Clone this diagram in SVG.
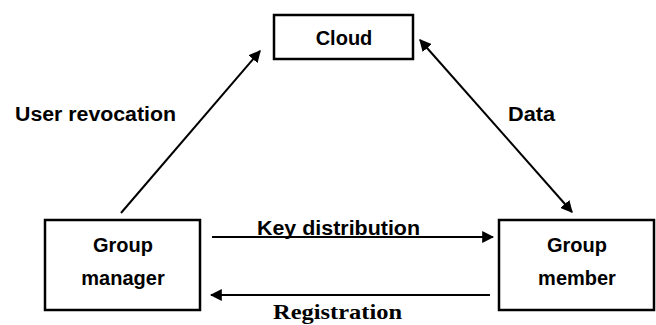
<svg xmlns="http://www.w3.org/2000/svg" width="656" height="325" viewBox="0 0 656 325">
<style>
.box{fill:#fff;stroke:#000;stroke-width:2.5}
.t{font-family:"Liberation Sans",Arial,sans-serif;font-weight:bold;font-size:20px;fill:#000}
.c{text-anchor:middle}
.ln{stroke:#000;stroke-width:2;fill:none}
.r{font-family:"Liberation Serif","Times New Roman",serif;font-weight:bold;font-size:21px;fill:#000}
</style>
<defs>
<marker id="ah" viewBox="0 0 10 10" refX="9" refY="5" markerWidth="6" markerHeight="6" orient="auto-start-reverse" markerUnits="strokeWidth">
<path d="M0,0 L10,5 L0,10 z" fill="#000"/>
</marker>
</defs>
<g id="cloud"><rect class="box" x="274" y="15" width="139" height="44"/><text class="t c" x="344" y="45">Cloud</text></g>
<g id="manager"><rect class="box" x="45" y="220" width="155" height="90"/><text class="t c" x="123" y="252">Group</text><text class="t c" x="123" y="285">manager</text></g>
<g id="member"><rect class="box" x="499" y="220" width="155" height="90"/><text class="t c" x="577" y="252">Group</text><text class="t c" x="577" y="285">member</text></g>
<g id="connectors">
<line class="ln" x1="121" y1="213" x2="260" y2="51" marker-end="url(#ah)"/>
<line class="ln" x1="420" y1="40" x2="572" y2="212" marker-start="url(#ah)" marker-end="url(#ah)"/>
<line class="ln" x1="212" y1="237" x2="493" y2="237" marker-end="url(#ah)"/>
<line class="ln" x1="490" y1="295" x2="211" y2="295" marker-end="url(#ah)"/>
</g>
<g id="labels">
<text class="t" x="15" y="121" textLength="161" lengthAdjust="spacingAndGlyphs">User revocation</text>
<text class="t" x="508" y="121" textLength="47" lengthAdjust="spacingAndGlyphs">Data</text>
<text class="t" x="257" y="235" textLength="163" lengthAdjust="spacingAndGlyphs">Key distribution</text>
<text class="r" x="273" y="319" textLength="129" lengthAdjust="spacingAndGlyphs">Registration</text>
</g>
</svg>
